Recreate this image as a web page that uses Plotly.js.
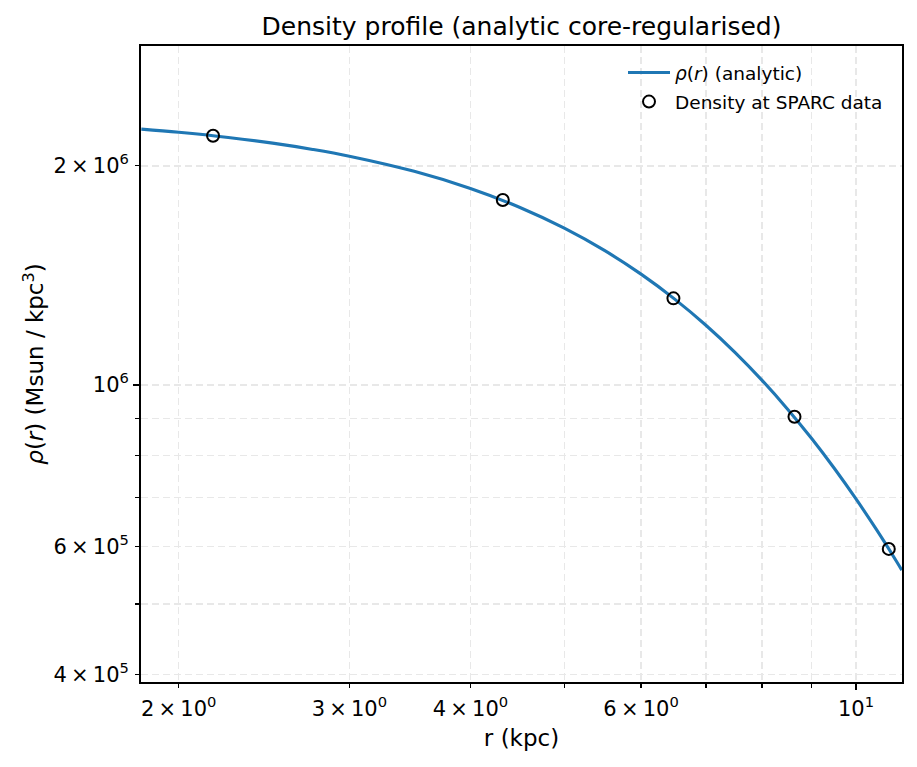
<!DOCTYPE html>
<html>
<head>
<meta charset="utf-8">
<script src="https://cdn.plot.ly/plotly-3.0.1.min.js"></script>
<style>
  html, body { margin: 0; padding: 0; background: #ffffff; }
  #chart { width: 917px; height: 767px; }
</style>
</head>
<body>
<div id="chart"></div>
<script>
// Analytic curve samples (kpc, Msun/kpc^3)
const curveR   = [1.83, 2, 2.25, 2.5, 2.75, 3, 3.5, 4, 4.5, 5, 5.5, 6, 6.5, 7, 7.5, 8, 8.5, 9, 9.5, 10, 10.5, 11, 11.15];
const curveRho = [2.2466e6, 2.2242e6, 2.1883e6, 2.1492e6, 2.1070e6, 2.0622e6, 1.9656e6, 1.8619e6, 1.7533e6, 1.6421e6,
                  1.5304e6, 1.4198e6, 1.3119e6, 1.2078e6, 1.1085e6, 1.0144e6, 9.261e5, 8.437e5, 7.674e5, 6.970e5,
                  6.323e5, 5.732e5, 5.564e5];

// Density at SPARC data radii
const sparcR   = [2.17, 4.32, 6.48, 8.64, 10.81];
const sparcRho = [2.20e6, 1.795e6, 1.315e6, 9.04e5, 5.95e5];

// Tick labels
const TS = '\u2009\u00d7\u2009';
const xTickVals = [2, 3, 4, 6, 10];
const xTickText = ['2' + TS + '10<sup>0</sup>', '3' + TS + '10<sup>0</sup>', '4' + TS + '10<sup>0</sup>', '6' + TS + '10<sup>0</sup>', '10<sup>1</sup>'];
const xMinorVals = [5, 7, 8, 9];
const yTickVals = [4e5, 6e5, 1e6, 2e6];
const yTickText = ['4' + TS + '10<sup>5</sup>', '6' + TS + '10<sup>5</sup>', '10<sup>6</sup>', '2' + TS + '10<sup>6</sup>'];
const yMinorVals = [5e5, 7e5, 8e5, 9e5, 3e6];

const FONT = 'DejaVu Sans, Liberation Sans, sans-serif';
const xRange = [0.2621, 1.04747];
const yRange = [5.5916, 6.4658];

const traces = [
  {
    x: curveR, y: curveRho,
    type: 'scatter', mode: 'lines',
    name: '<i>\u03c1</i>(<i>r</i>) (analytic)',
    line: { color: '#1f77b4', width: 3.1, shape: 'spline', smoothing: 1 },
    legendgroup: 'a',
    hoverinfo: 'skip'
  },
  {
    x: sparcR, y: sparcRho,
    type: 'scatter', mode: 'markers',
    name: 'Density at SPARC data',
    xaxis: 'x2', yaxis: 'y2',
    marker: { symbol: 'circle-open', size: 12, color: '#000000', line: { width: 2, color: '#000000' } },
    legendgroup: 'b',
    hoverinfo: 'skip'
  }
];

const gridCol = '#e8e8e8';
const gridDash = '7px,4px';

const layout = {
  width: 917, height: 767,
  paper_bgcolor: '#ffffff', plot_bgcolor: '#ffffff',
  margin: { l: 141, r: 15, t: 46, b: 85, pad: 0 },
  font: { family: FONT, color: '#000000', size: 21 },
  title: {
    text: 'Density profile (analytic core-regularised)',
    font: { family: FONT, size: 25, color: '#000000' },
    x: 0.5, xref: 'paper', xanchor: 'center',
    y: 1 - 26 / 767, yref: 'container', yanchor: 'middle'
  },
  showlegend: true,
  legend: {
    x: (623 - 141) / 761, xanchor: 'left',
    y: (682 - 54) / 636, yanchor: 'top',
    bgcolor: 'rgba(255,255,255,0)', borderwidth: 0,
    font: { family: FONT, size: 18.5, color: '#000000' },
    traceorder: 'grouped', tracegroupgap: 2,
    itemwidth: 42
  },
  xaxis: {
    type: 'log', range: xRange,
    tickmode: 'array', tickvals: xTickVals, ticktext: xTickText,
    ticks: 'outside', ticklen: 4.2, tickwidth: 1.25, tickcolor: '#000000',
    ticklabelstandoff: 3,
    tickfont: { family: FONT, size: 21, color: '#000000' },
    showline: true, linecolor: '#000000', linewidth: 1.67, mirror: true,
    showgrid: true, gridcolor: gridCol, gridwidth: 1.3, griddash: gridDash,
    minor: { tickmode: 'array', tickvals: xMinorVals, ticks: 'outside', ticklen: 4.2, tickwidth: 1.25, tickcolor: '#000000',
             showgrid: true, gridcolor: gridCol, gridwidth: 1.3, griddash: gridDash },
    zeroline: false,
    title: { text: 'r (kpc)', font: { family: FONT, size: 23, color: '#000000' }, standoff: 10 }
  },
  yaxis: {
    type: 'log', range: yRange,
    tickmode: 'array', tickvals: yTickVals, ticktext: yTickText,
    ticks: 'outside', ticklen: 4.2, tickwidth: 1.25, tickcolor: '#000000',
    ticklabelstandoff: 2,
    tickfont: { family: FONT, size: 21, color: '#000000' },
    showline: true, linecolor: '#000000', linewidth: 1.67, mirror: true,
    showgrid: true, gridcolor: gridCol, gridwidth: 1.3, griddash: gridDash,
    minor: { tickmode: 'array', tickvals: yMinorVals, ticks: 'outside', ticklen: 4.2, tickwidth: 1.25, tickcolor: '#000000',
             showgrid: true, gridcolor: gridCol, gridwidth: 1.3, griddash: gridDash },
    zeroline: false,
    title: { text: '<i>\u03c1</i>(<i>r</i>) (Msun / kpc<sup>3</sup>)', font: { family: FONT, size: 23, color: '#000000' }, standoff: 3 }
  },
  // overlay axes: carry the markers above the line and the longer decade ticks
  xaxis2: {
    type: 'log', range: xRange, overlaying: 'x', anchor: 'y2', side: 'bottom',
    tickmode: 'array', tickvals: [10], ticktext: [''],
    ticks: 'outside', ticklen: 7.3, tickwidth: 1.67, tickcolor: '#000000',
    showgrid: false, showline: false, zeroline: false, showticklabels: false
  },
  yaxis2: {
    type: 'log', range: yRange, overlaying: 'y', anchor: 'x2', side: 'left',
    tickmode: 'array', tickvals: [1e6], ticktext: [''],
    ticks: 'outside', ticklen: 7.3, tickwidth: 1.67, tickcolor: '#000000',
    showgrid: false, showline: false, zeroline: false, showticklabels: false
  }
};

Plotly.newPlot('chart', traces, layout, { displayModeBar: false, staticPlot: true });
</script>
</body>
</html>
